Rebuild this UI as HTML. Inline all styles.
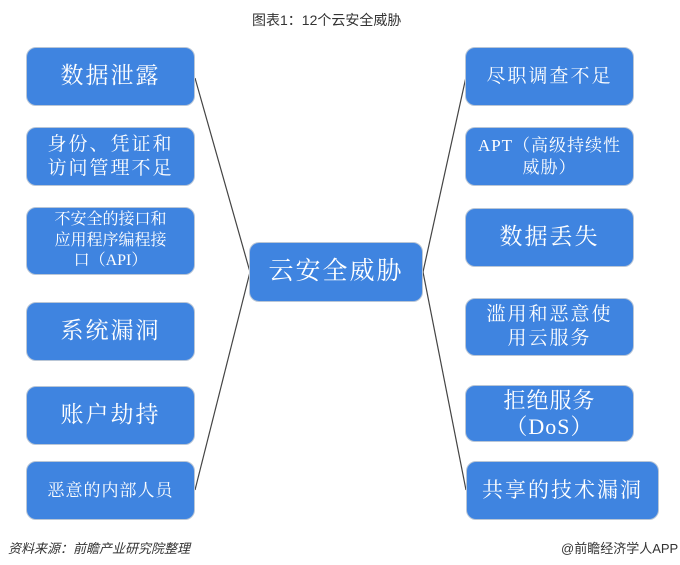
<!DOCTYPE html>
<html><head><meta charset="utf-8"><style>
body{margin:0;width:680px;height:565px;background:#fff;position:relative;overflow:hidden;font-family:"Liberation Serif","Noto Serif CJK SC",serif}
.b{position:absolute;background:#3f84e0;border:1px solid #b9c6d6;border-radius:10px;color:#fff;display:flex;align-items:center;justify-content:center;text-align:center;box-sizing:border-box;line-height:1.25}
.t{position:absolute;font-family:"Liberation Sans","Noto Sans CJK SC",sans-serif;color:#333}
</style></head><body>
<svg width="680" height="565" style="position:absolute;left:0;top:0">
<g stroke="#444" stroke-width="1.2" fill="none">
<line x1="195" y1="78" x2="250" y2="272"/>
<line x1="195" y1="490" x2="250" y2="272"/>
<line x1="466" y1="77" x2="423" y2="272"/>
<line x1="466" y1="490" x2="423" y2="272"/>
</g></svg>
<div class="t" style="left:252px;top:10px;font-size:14px">图表1：12个云安全威胁</div>
<div class="b" style="left:26px;top:47px;width:169px;height:59px;font-size:23px;letter-spacing:2px">数据泄露</div>
<div class="b" style="left:26px;top:127px;width:169px;height:59px;font-size:19px;letter-spacing:2px">身份、凭证和<br>访问管理不足</div>
<div class="b" style="left:26px;top:207px;width:169px;height:68px;font-size:16px;line-height:1.3">不安全的接口和<br>应用程序编程接<br>口（API）</div>
<div class="b" style="left:26px;top:302px;width:169px;height:59px;font-size:23px;letter-spacing:2px">系统漏洞</div>
<div class="b" style="left:26px;top:386px;width:169px;height:59px;font-size:23px;letter-spacing:2px">账户劫持</div>
<div class="b" style="left:26px;top:461px;width:169px;height:59px;font-size:17px;letter-spacing:1px">恶意的内部人员</div>
<div class="b" style="left:249px;top:242px;width:174px;height:60px;font-size:25px;letter-spacing:2px">云安全威胁</div>
<div class="b" style="left:465px;top:47px;width:169px;height:59px;font-size:19px;letter-spacing:2px">尽职调查不足</div>
<div class="b" style="left:465px;top:127px;width:169px;height:59px;font-size:17px;letter-spacing:1px">APT（高级持续性<br>威胁）</div>
<div class="b" style="left:465px;top:208px;width:169px;height:59px;font-size:23px;letter-spacing:2px">数据丢失</div>
<div class="b" style="left:465px;top:298px;width:169px;height:58px;font-size:19px;letter-spacing:2px">滥用和恶意使<br>用云服务</div>
<div class="b" style="left:465px;top:385px;width:169px;height:57px;font-size:22px;line-height:1.15;letter-spacing:1px">拒绝服务<br>（DoS）</div>
<div class="b" style="left:466px;top:461px;width:193px;height:59px;font-size:21px;letter-spacing:2px">共享的技术漏洞</div>
<div class="t" style="left:8px;top:538px;font-size:13px;font-style:italic">资料来源：前瞻产业研究院整理</div>
<div class="t" style="left:561px;top:538px;font-size:13px">@前瞻经济学人APP</div>
</body></html>
